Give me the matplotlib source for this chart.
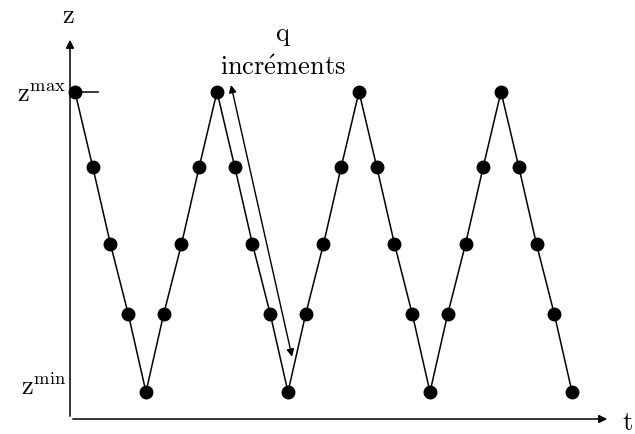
import numpy as np
import matplotlib
matplotlib.use('Agg')
import matplotlib.pyplot as plt

plt.rcParams['mathtext.fontset'] = 'cm'

# niveaux (z^max -> z^min)
levels_down = [4.0, 3.0, 1.97, 1.04, 0.0]
levels_up = levels_down[::-1]
n_descentes = 4

# suite des points : descente, montée, descente, ...
z = list(levels_down)
for i in range(n_descentes - 1):
    z += levels_up[1:]
    z += levels_down[1:]
t = np.arange(len(z))

fig = plt.figure(figsize=(6.35, 4.35), dpi=100)
ax = fig.add_axes([70 / 635, 15 / 435, 540 / 635, 382 / 435])
xmin, xmax = -0.28, 30.14
ymin, ymax = -0.36, 4.73
ax.set_xlim(xmin, xmax)
ax.set_ylim(ymin, ymax)
ax.axis('off')

ax.plot(t, z, color='black', lw=1.1, marker='o', ms=9, mfc='black', mec='black', clip_on=False)

# axes avec flèches
ax.annotate('', xy=(xmax, ymin), xytext=(xmin, ymin),
            arrowprops=dict(arrowstyle='-|>', color='black', lw=1.1, mutation_scale=12))
ax.annotate('', xy=(xmin, ymax), xytext=(xmin, ymin),
            arrowprops=dict(arrowstyle='-|>', color='black', lw=1.1, mutation_scale=12))

# petit trait à z^max
ax.plot([xmin, 1.3], [4.0, 4.0], color='black', lw=1.1, clip_on=False)

ax.text(xmin - 0.1, 5.02, r'$\mathrm{z}$', fontsize=19, ha='center', va='center')
ax.text(31.15, -0.4, r'$\mathrm{t}$', fontsize=19, ha='center', va='center')
ax.text(xmin - 0.2, 3.97, r'$\mathrm{z}^{\mathrm{max}}$', fontsize=19, ha='right', va='center')
ax.text(xmin - 0.2, 0.07, r'$\mathrm{z}^{\mathrm{min}}$', fontsize=19, ha='right', va='center')

ax.text(11.7, 4.77, r'$\mathrm{q}$', fontsize=19, ha='center', va='center')
ax.text(11.7, 4.33, r'$\mathrm{incr\acute{e}ments}$', fontsize=19, ha='center', va='center')

# double flèche "q incréments"
ax.annotate('', xy=(8.79, 4.09), xytext=(12.23, 0.47),
            arrowprops=dict(arrowstyle='<|-|>', color='black', lw=1.0, mutation_scale=11,
                            shrinkA=0, shrinkB=0))

fig.savefig('out.png', dpi=100)
